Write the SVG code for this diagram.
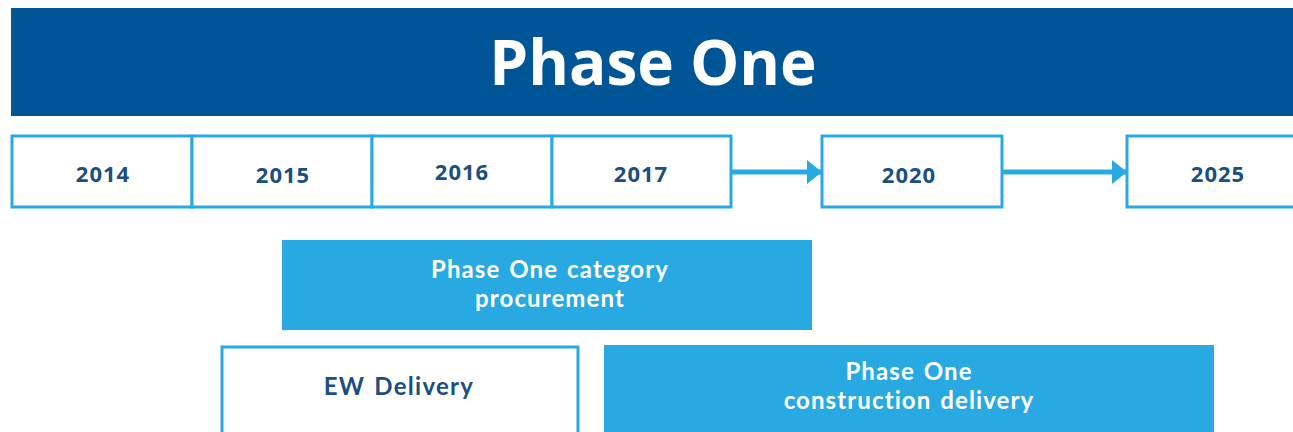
<svg xmlns="http://www.w3.org/2000/svg" width="1293" height="432" viewBox="0 0 1293 432">
<defs>
<style>
.yr{fill:#fff;stroke:#29a9e1;stroke-width:3}
.yt{font-family:"Open Sans","Noto Sans",sans-serif;font-weight:700;font-size:22px;letter-spacing:1px;fill:#1b4f80;text-anchor:middle}
.fill{fill:#29a9e1}
.wt{font-family:Lato,"Open Sans",sans-serif;font-weight:700;font-size:24px;letter-spacing:1.1px;word-spacing:2px;fill:#fff;text-anchor:middle}
.dt{font-family:Lato,"Open Sans",sans-serif;font-weight:700;font-size:24px;letter-spacing:1.3px;word-spacing:2px;fill:#1b4f80;text-anchor:middle}
.conn{stroke:#29a9e1;stroke-width:5;fill:none}
</style>
<marker id="ah" viewBox="0 0 15 24" refX="15" refY="12" markerWidth="15" markerHeight="24" markerUnits="userSpaceOnUse" orient="auto">
<path d="M0,0 L15,12 L0,24 Z" fill="#29a9e1"/>
</marker>
</defs>
<rect width="1293" height="432" fill="#fff"/>
<g id="header">
<rect x="11" y="8" width="1290" height="108" fill="#005596"/>
<text x="653" y="85" font-family="'Open Sans','Noto Sans',sans-serif" font-weight="700" font-size="62" fill="#fff" text-anchor="middle">Phase One</text>
</g>
<g id="connectors">
<line class="conn" x1="731" y1="172" x2="822" y2="172" marker-end="url(#ah)"/>
<line class="conn" x1="1002" y1="172" x2="1127" y2="172" marker-end="url(#ah)"/>
</g>
<g id="y2014"><rect class="yr" x="12" y="136" width="180" height="71"/><text class="yt" x="103" y="182">2014</text></g>
<g id="y2015"><rect class="yr" x="192" y="136" width="180" height="71"/><text class="yt" x="283" y="183">2015</text></g>
<g id="y2016"><rect class="yr" x="372" y="136" width="180" height="71"/><text class="yt" x="462" y="180">2016</text></g>
<g id="y2017"><rect class="yr" x="552" y="136" width="179" height="71"/><text class="yt" x="641" y="182">2017</text></g>
<g id="y2020"><rect class="yr" x="822" y="136" width="180" height="71"/><text class="yt" x="909" y="183">2020</text></g>
<g id="y2025"><rect class="yr" x="1127" y="136" width="180" height="71"/><text class="yt" x="1218" y="182">2025</text></g>
<g id="procurement">
<rect class="fill" x="282" y="240" width="530" height="90"/>
<text class="wt" x="550" y="278">Phase One category</text>
<text class="wt" x="550" y="307">procurement</text>
</g>
<g id="ew">
<rect x="222" y="347" width="356" height="90" fill="#fff" stroke="#29a9e1" stroke-width="3"/>
<text class="dt" x="399" y="395">EW Delivery</text>
</g>
<g id="construction">
<rect class="fill" x="604" y="345" width="610" height="90"/>
<text class="wt" x="909" y="380">Phase One</text>
<text class="wt" x="909" y="409">construction delivery</text>
</g>
</svg>
